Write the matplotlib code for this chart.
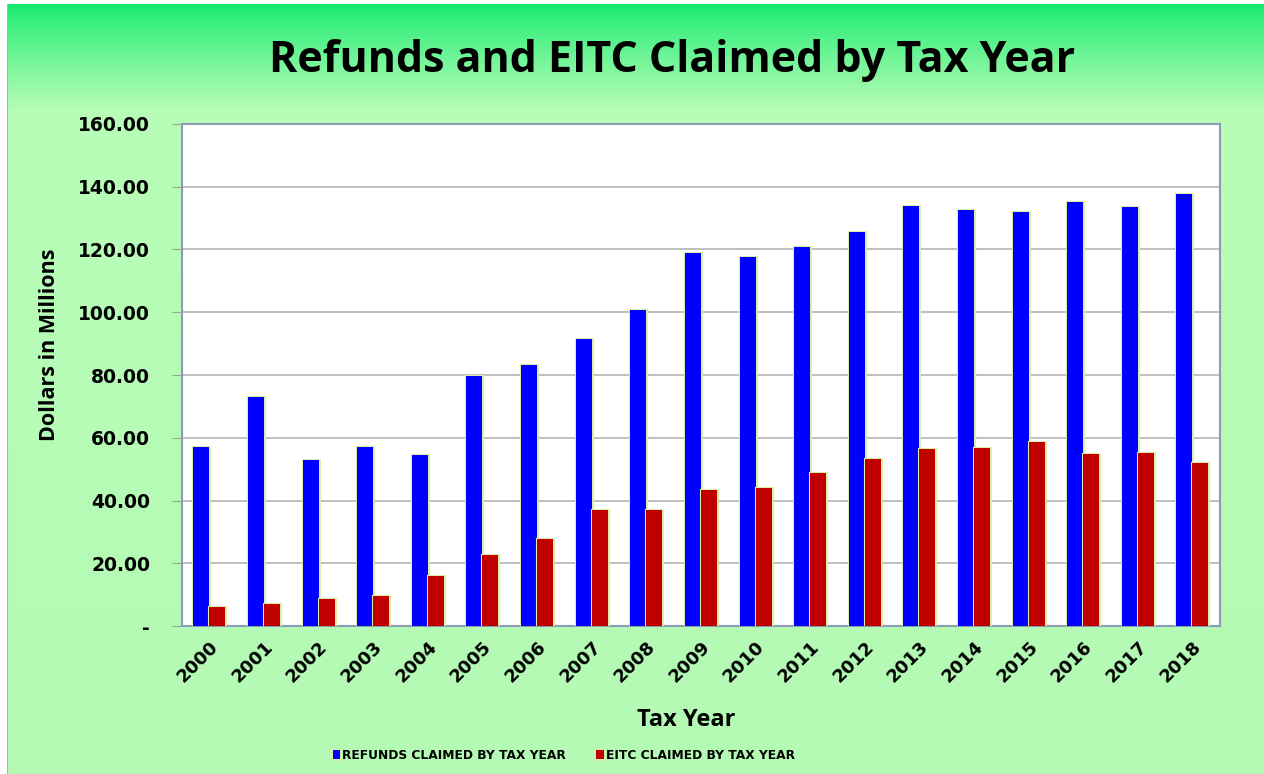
import numpy as np
import matplotlib
matplotlib.use("Agg")
from matplotlib import pyplot as plt
from matplotlib import patheffects as pe

# data
years = [str(y) for y in range(2000, 2019)]
refunds = [57.0, 73.0, 52.9, 57.0, 54.5, 79.7, 83.2, 91.5, 100.7, 118.9,
           117.6, 120.8, 125.6, 133.9, 132.6, 131.8, 135.2, 133.4, 137.8]
eitc = [6.2, 7.2, 8.8, 9.7, 16.0, 22.7, 27.8, 37.0, 37.0, 43.4,
        44.0, 48.7, 53.4, 56.3, 56.8, 58.8, 54.8, 55.0, 52.0]
yticks = [0, 20, 40, 60, 80, 100, 120, 140, 160]
ytick_labels = ['-'] + ['%.2f' % v for v in yticks[1:]]

fig = plt.figure(figsize=(12.64, 7.74), dpi=100)
fig.patch.set_facecolor('white')

# green gradient background
bg = fig.add_axes([0.0055, 0, 0.9945, 0.995])
bg.set_axis_off()
top = np.array([0x10, 0xea, 0x6c]) / 255
mid = np.array([0xb8, 0xfd, 0xb8]) / 255
bot = np.array([0xb4, 0xfa, 0xb4]) / 255
n = 400
t = np.linspace(0, 1, n)
grad = np.zeros((n, 1, 3))
for i, tt in enumerate(t):
    if tt < 0.14:
        f = (tt / 0.14) ** 0.8
        grad[i, 0] = top * (1 - f) + mid * f
    else:
        f = (tt - 0.14) / 0.86
        grad[i, 0] = mid * (1 - f) + bot * f
bg.imshow(grad, aspect='auto', extent=[0, 1, 0, 1], origin='upper')
bg.set_xlim(0, 1)
bg.set_ylim(0, 1)
bg.axvline(0, color='#b0b0b0', lw=1.5)

ax = fig.add_axes([0.144, 0.191, 0.821, 0.649])
ax.set_facecolor('white')

x = np.arange(len(years))
w = 0.293
glow = [pe.withStroke(linewidth=2.2, foreground='#d9efa6')]
b1 = ax.bar(x - w / 2, refunds, w, color='#0000ff', label='REFUNDS CLAIMED BY TAX YEAR',
            zorder=3)
b2 = ax.bar(x + w / 2, eitc, w, color='#c00000', label='EITC CLAIMED BY TAX YEAR',
            zorder=3)
for b in list(b1) + list(b2):
    b.set_path_effects(glow)

ax.set_xlim(-0.5, len(years) - 0.5)
ax.set_ylim(0, 160)
ax.set_yticks(yticks)
ax.set_yticklabels(ytick_labels, fontsize=13.5, fontweight='bold')
ax.yaxis.grid(True, color='#b4b4b4', lw=1.2, zorder=0)
ax.set_xticks(x)
ax.set_xticklabels(years, rotation=45, ha='right', rotation_mode='anchor',
                   fontsize=13, fontweight='bold')
ax.tick_params(axis='y', length=7, color='#a0a0a0', pad=16)
ax.tick_params(axis='x', length=0, pad=8)
for s in ax.spines.values():
    s.set_color('#8c9cb4')
    s.set_linewidth(1.5)

ax.set_ylabel('Dollars in Millions', fontsize=15.5, fontweight='bold',
              family='Open Sans')
ax.yaxis.set_label_coords(-0.118, 0.56)
ax.set_xlabel('Tax Year', fontsize=17, fontweight='bold', family='Open Sans')
ax.xaxis.set_label_coords(0.4855, -0.163)

fig.text(0.532, 0.922, 'Refunds and EITC Claimed by Tax Year', ha='center', va='center',
         fontsize=31, fontweight='bold', family='Open Sans')

fig.legend(handles=[b1, b2], loc='center', bbox_to_anchor=(0.446, 0.0245), ncol=2,
           frameon=False, prop={'size': 8.8, 'weight': 'bold'}, handlelength=0.6,
           handleheight=0.7, handletextpad=0.15, columnspacing=2.5)

fig.savefig('out.png', dpi=100)
